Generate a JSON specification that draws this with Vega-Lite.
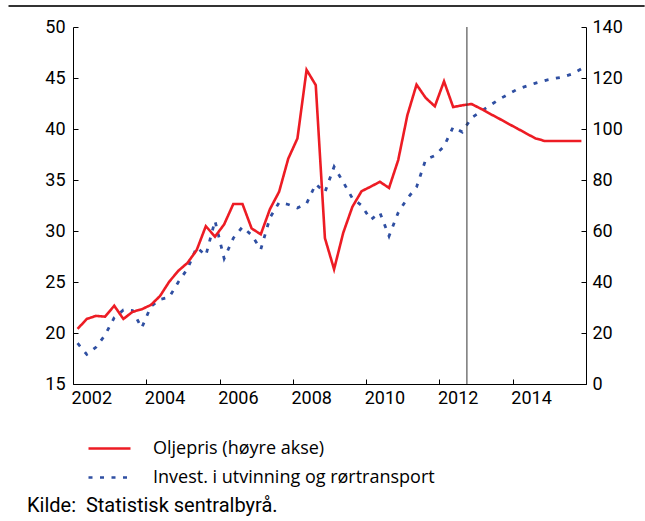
{
  "$schema": "https://vega.github.io/schema/vega-lite/v6.json",
  "width": 513,
  "height": 357,
  "autosize": {"type": "none"},
  "padding": {"left": 73, "top": 27, "right": 59, "bottom": 137},
  "background": "white",
  "config": {
    "font": "Roboto",
    "view": {"stroke": null},
    "axis": {"grid": false, "domainColor": "#000", "tickColor": "#000", "labelColor": "#000", "labelFontSize": 18, "title": null, "domainWidth": 1, "tickWidth": 1}
  },
  "title": {"text": "Kilde:\u00a0 Statistisk sentralbyrå.", "orient": "bottom", "anchor": "start", "frame": "group", "fontSize": 20, "fontWeight": "normal", "color": "#000", "dx": -46, "offset": 9},
  "datasets": {
    "invest": [
      {"t": 2002.125, "serie": "Invest. i utvinning og rørtransport", "verdi": 19.0},
      {"t": 2002.375, "serie": "Invest. i utvinning og rørtransport", "verdi": 17.9},
      {"t": 2002.625, "serie": "Invest. i utvinning og rørtransport", "verdi": 18.6},
      {"t": 2002.875, "serie": "Invest. i utvinning og rørtransport", "verdi": 19.8},
      {"t": 2003.125, "serie": "Invest. i utvinning og rørtransport", "verdi": 21.5},
      {"t": 2003.375, "serie": "Invest. i utvinning og rørtransport", "verdi": 22.25},
      {"t": 2003.625, "serie": "Invest. i utvinning og rørtransport", "verdi": 22.2},
      {"t": 2003.875, "serie": "Invest. i utvinning og rørtransport", "verdi": 20.5},
      {"t": 2004.125, "serie": "Invest. i utvinning og rørtransport", "verdi": 22.6},
      {"t": 2004.375, "serie": "Invest. i utvinning og rørtransport", "verdi": 23.3},
      {"t": 2004.625, "serie": "Invest. i utvinning og rørtransport", "verdi": 23.5},
      {"t": 2004.875, "serie": "Invest. i utvinning og rørtransport", "verdi": 25.0},
      {"t": 2005.125, "serie": "Invest. i utvinning og rørtransport", "verdi": 26.3},
      {"t": 2005.375, "serie": "Invest. i utvinning og rørtransport", "verdi": 28.4},
      {"t": 2005.625, "serie": "Invest. i utvinning og rørtransport", "verdi": 27.6},
      {"t": 2005.875, "serie": "Invest. i utvinning og rørtransport", "verdi": 31.0},
      {"t": 2006.125, "serie": "Invest. i utvinning og rørtransport", "verdi": 27.3},
      {"t": 2006.375, "serie": "Invest. i utvinning og rørtransport", "verdi": 29.3},
      {"t": 2006.625, "serie": "Invest. i utvinning og rørtransport", "verdi": 30.4},
      {"t": 2006.875, "serie": "Invest. i utvinning og rørtransport", "verdi": 29.6},
      {"t": 2007.125, "serie": "Invest. i utvinning og rørtransport", "verdi": 28.2},
      {"t": 2007.375, "serie": "Invest. i utvinning og rørtransport", "verdi": 31.3},
      {"t": 2007.625, "serie": "Invest. i utvinning og rørtransport", "verdi": 32.8},
      {"t": 2007.875, "serie": "Invest. i utvinning og rørtransport", "verdi": 32.6},
      {"t": 2008.125, "serie": "Invest. i utvinning og rørtransport", "verdi": 32.25},
      {"t": 2008.375, "serie": "Invest. i utvinning og rørtransport", "verdi": 32.7},
      {"t": 2008.625, "serie": "Invest. i utvinning og rørtransport", "verdi": 34.6},
      {"t": 2008.875, "serie": "Invest. i utvinning og rørtransport", "verdi": 33.8},
      {"t": 2009.125, "serie": "Invest. i utvinning og rørtransport", "verdi": 36.3},
      {"t": 2009.375, "serie": "Invest. i utvinning og rørtransport", "verdi": 34.8},
      {"t": 2009.625, "serie": "Invest. i utvinning og rørtransport", "verdi": 33.2},
      {"t": 2009.875, "serie": "Invest. i utvinning og rørtransport", "verdi": 32.5},
      {"t": 2010.125, "serie": "Invest. i utvinning og rørtransport", "verdi": 31.1},
      {"t": 2010.375, "serie": "Invest. i utvinning og rørtransport", "verdi": 31.8},
      {"t": 2010.625, "serie": "Invest. i utvinning og rørtransport", "verdi": 29.5},
      {"t": 2010.875, "serie": "Invest. i utvinning og rørtransport", "verdi": 31.8},
      {"t": 2011.125, "serie": "Invest. i utvinning og rørtransport", "verdi": 33.2},
      {"t": 2011.375, "serie": "Invest. i utvinning og rørtransport", "verdi": 34.3},
      {"t": 2011.625, "serie": "Invest. i utvinning og rørtransport", "verdi": 37.0},
      {"t": 2011.875, "serie": "Invest. i utvinning og rørtransport", "verdi": 37.4},
      {"t": 2012.125, "serie": "Invest. i utvinning og rørtransport", "verdi": 38.3},
      {"t": 2012.375, "serie": "Invest. i utvinning og rørtransport", "verdi": 40.2},
      {"t": 2012.625, "serie": "Invest. i utvinning og rørtransport", "verdi": 39.7},
      {"t": 2012.875, "serie": "Invest. i utvinning og rørtransport", "verdi": 41.1},
      {"t": 2013.125, "serie": "Invest. i utvinning og rørtransport", "verdi": 41.7},
      {"t": 2013.375, "serie": "Invest. i utvinning og rørtransport", "verdi": 42.3},
      {"t": 2013.625, "serie": "Invest. i utvinning og rørtransport", "verdi": 42.9},
      {"t": 2013.875, "serie": "Invest. i utvinning og rørtransport", "verdi": 43.4},
      {"t": 2014.125, "serie": "Invest. i utvinning og rørtransport", "verdi": 43.9},
      {"t": 2014.375, "serie": "Invest. i utvinning og rørtransport", "verdi": 44.2},
      {"t": 2014.625, "serie": "Invest. i utvinning og rørtransport", "verdi": 44.5},
      {"t": 2014.875, "serie": "Invest. i utvinning og rørtransport", "verdi": 44.75},
      {"t": 2015.125, "serie": "Invest. i utvinning og rørtransport", "verdi": 44.95},
      {"t": 2015.375, "serie": "Invest. i utvinning og rørtransport", "verdi": 45.1},
      {"t": 2015.625, "serie": "Invest. i utvinning og rørtransport", "verdi": 45.4},
      {"t": 2015.875, "serie": "Invest. i utvinning og rørtransport", "verdi": 45.9}
    ],
    "olje": [
      {"t": 2002.125, "serie": "Oljepris (høyre akse)", "verdi": 21.6},
      {"t": 2002.375, "serie": "Oljepris (høyre akse)", "verdi": 25.5},
      {"t": 2002.625, "serie": "Oljepris (høyre akse)", "verdi": 26.7},
      {"t": 2002.875, "serie": "Oljepris (høyre akse)", "verdi": 26.4},
      {"t": 2003.125, "serie": "Oljepris (høyre akse)", "verdi": 30.7},
      {"t": 2003.375, "serie": "Oljepris (høyre akse)", "verdi": 25.5},
      {"t": 2003.625, "serie": "Oljepris (høyre akse)", "verdi": 28.3},
      {"t": 2003.875, "serie": "Oljepris (høyre akse)", "verdi": 29.3},
      {"t": 2004.125, "serie": "Oljepris (høyre akse)", "verdi": 31.0},
      {"t": 2004.375, "serie": "Oljepris (høyre akse)", "verdi": 34.5},
      {"t": 2004.625, "serie": "Oljepris (høyre akse)", "verdi": 40.1},
      {"t": 2004.875, "serie": "Oljepris (høyre akse)", "verdi": 44.4},
      {"t": 2005.125, "serie": "Oljepris (høyre akse)", "verdi": 47.5},
      {"t": 2005.375, "serie": "Oljepris (høyre akse)", "verdi": 52.5},
      {"t": 2005.625, "serie": "Oljepris (høyre akse)", "verdi": 61.9},
      {"t": 2005.875, "serie": "Oljepris (høyre akse)", "verdi": 57.8},
      {"t": 2006.125, "serie": "Oljepris (høyre akse)", "verdi": 62.6},
      {"t": 2006.375, "serie": "Oljepris (høyre akse)", "verdi": 70.6},
      {"t": 2006.625, "serie": "Oljepris (høyre akse)", "verdi": 70.6},
      {"t": 2006.875, "serie": "Oljepris (høyre akse)", "verdi": 61.0},
      {"t": 2007.125, "serie": "Oljepris (høyre akse)", "verdi": 58.7},
      {"t": 2007.375, "serie": "Oljepris (høyre akse)", "verdi": 68.6},
      {"t": 2007.625, "serie": "Oljepris (høyre akse)", "verdi": 75.4},
      {"t": 2007.875, "serie": "Oljepris (høyre akse)", "verdi": 88.4},
      {"t": 2008.125, "serie": "Oljepris (høyre akse)", "verdi": 96.3},
      {"t": 2008.375, "serie": "Oljepris (høyre akse)", "verdi": 123.2},
      {"t": 2008.625, "serie": "Oljepris (høyre akse)", "verdi": 117.2},
      {"t": 2008.875, "serie": "Oljepris (høyre akse)", "verdi": 57.2},
      {"t": 2009.125, "serie": "Oljepris (høyre akse)", "verdi": 45.0},
      {"t": 2009.375, "serie": "Oljepris (høyre akse)", "verdi": 59.3},
      {"t": 2009.625, "serie": "Oljepris (høyre akse)", "verdi": 69.5},
      {"t": 2009.875, "serie": "Oljepris (høyre akse)", "verdi": 75.6},
      {"t": 2010.125, "serie": "Oljepris (høyre akse)", "verdi": 77.4},
      {"t": 2010.375, "serie": "Oljepris (høyre akse)", "verdi": 79.3},
      {"t": 2010.625, "serie": "Oljepris (høyre akse)", "verdi": 76.9},
      {"t": 2010.875, "serie": "Oljepris (høyre akse)", "verdi": 87.8},
      {"t": 2011.125, "serie": "Oljepris (høyre akse)", "verdi": 105.4},
      {"t": 2011.375, "serie": "Oljepris (høyre akse)", "verdi": 117.4},
      {"t": 2011.625, "serie": "Oljepris (høyre akse)", "verdi": 112.2},
      {"t": 2011.875, "serie": "Oljepris (høyre akse)", "verdi": 108.9},
      {"t": 2012.125, "serie": "Oljepris (høyre akse)", "verdi": 118.7},
      {"t": 2012.375, "serie": "Oljepris (høyre akse)", "verdi": 108.6},
      {"t": 2012.625, "serie": "Oljepris (høyre akse)", "verdi": 109.3},
      {"t": 2012.875, "serie": "Oljepris (høyre akse)", "verdi": 109.8},
      {"t": 2013.125, "serie": "Oljepris (høyre akse)", "verdi": 108.0},
      {"t": 2013.375, "serie": "Oljepris (høyre akse)", "verdi": 106.0},
      {"t": 2013.625, "serie": "Oljepris (høyre akse)", "verdi": 104.1},
      {"t": 2013.875, "serie": "Oljepris (høyre akse)", "verdi": 102.1},
      {"t": 2014.125, "serie": "Oljepris (høyre akse)", "verdi": 100.2},
      {"t": 2014.375, "serie": "Oljepris (høyre akse)", "verdi": 98.2},
      {"t": 2014.625, "serie": "Oljepris (høyre akse)", "verdi": 96.3},
      {"t": 2014.875, "serie": "Oljepris (høyre akse)", "verdi": 95.3},
      {"t": 2015.125, "serie": "Oljepris (høyre akse)", "verdi": 95.3},
      {"t": 2015.375, "serie": "Oljepris (høyre akse)", "verdi": 95.3},
      {"t": 2015.625, "serie": "Oljepris (høyre akse)", "verdi": 95.3},
      {"t": 2015.875, "serie": "Oljepris (høyre akse)", "verdi": 95.3}
    ],
    "prognose": [{"t": 2012.75}]
  },
  "layer": [
    {
      "data": {"name": "invest"},
      "mark": {"type": "line", "strokeWidth": 2.8, "strokeCap": "butt"},
      "encoding": {
        "x": {
          "field": "t", "type": "quantitative",
          "scale": {"domain": [2002, 2016], "nice": false, "zero": false},
          "axis": {
            "values": [2002, 2003, 2004, 2005, 2006, 2007, 2008, 2009, 2010, 2011, 2012, 2013, 2014, 2015, 2016],
            "format": "d",
            "labelExpr": "datum.value % 2 == 0 && datum.value < 2015 ? datum.label : ''",
            "labelOffset": 18.3,
            "labelFlush": false,
            "labelOverlap": false,
            "tickSize": -5,
            "labelPadding": 10
          }
        },
        "y": {
          "field": "verdi", "type": "quantitative",
          "scale": {"domain": [15, 50], "nice": false, "zero": false},
          "axis": {"orient": "left", "values": [15, 20, 25, 30, 35, 40, 45, 50], "tickSize": -5, "labelPadding": 13}
        },
        "color": {
          "field": "serie", "type": "nominal",
          "scale": {"domain": ["Oljepris (høyre akse)", "Invest. i utvinning og rørtransport"], "range": ["#ED1C24", "#2F4FA2"]},
          "legend": {
            "title": null, "orient": "none", "legendX": 21, "legendY": 406, "direction": "vertical",
            "symbolType": "M-1.5,0H1.5", "symbolSize": 784, "symbolStrokeWidth": 2.6,
            "labelFont": "Open Sans", "labelFontSize": 18, "labelOffset": 28, "labelLimit": 0, "rowPadding": 4, "labelColor": "#000", "padding": 0
          }
        },
        "strokeDash": {
          "field": "serie", "type": "nominal",
          "scale": {"domain": ["Oljepris (høyre akse)", "Invest. i utvinning og rørtransport"], "range": [[1, 0], [4, 7.5]]},
          "legend": null
        }
      }
    },
    {
      "data": {"name": "olje"},
      "mark": {"type": "line", "strokeWidth": 2.6},
      "encoding": {
        "x": {"field": "t", "type": "quantitative"},
        "y": {
          "field": "verdi", "type": "quantitative",
          "scale": {"domain": [0, 140], "nice": false},
          "axis": {"orient": "right", "values": [0, 20, 40, 60, 80, 100, 120, 140], "tickSize": -5, "labelPadding": 11}
        },
        "color": {"field": "serie", "type": "nominal"},
        "strokeDash": {"field": "serie", "type": "nominal"}
      }
    },
    {
      "data": {"name": "prognose"},
      "mark": {"type": "rule", "color": "#333", "strokeWidth": 1},
      "encoding": {"x": {"field": "t", "type": "quantitative"}}
    },
    {
      "data": {"values": [{"ramme": "topp"}]},
      "mark": {"type": "rule", "color": "#333", "strokeWidth": 2, "clip": false},
      "encoding": {
        "y": {"datum": 52.05, "type": "quantitative", "scale": {"domain": [15, 50], "nice": false, "zero": false}, "axis": null}
      }
    },
    {
      "data": {"values": [{"ramme": "topp"}]},
      "mark": {"type": "rule", "color": "#333", "strokeWidth": 2, "clip": false},
      "encoding": {
        "x": {"datum": 2000.24, "type": "quantitative"},
        "x2": {"datum": 2017.6},
        "y": {"datum": 52.05, "type": "quantitative", "scale": {"domain": [15, 50], "nice": false, "zero": false}, "axis": null},
        "y2": {"datum": 52.05}
      }
    }
  ],
  "resolve": {"scale": {"y": "independent"}}
}
